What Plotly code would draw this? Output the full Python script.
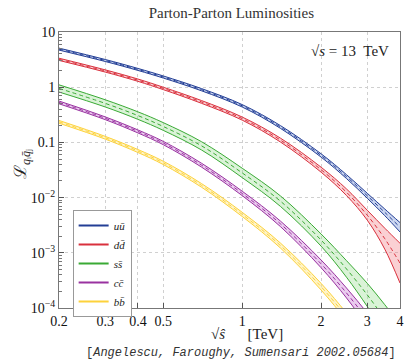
import numpy as np
import plotly.graph_objects as go

# sqrt(s-hat) in TeV
X = [0.2, 0.3, 0.4, 0.5, 0.7, 1.0, 1.4, 2.0, 2.5, 3.0, 3.5, 4.0]

# central luminosities
uu = [4.9, 3.05, 2.1, 1.53, 0.9, 0.46, 0.19, 0.058, 0.024, 0.0108, 0.0054, 0.0029]
dd = [3.2, 1.97, 1.34, 0.95, 0.54, 0.27, 0.11, 0.032, 0.0125, 0.0048, 0.0018, 0.00065]
ss = [0.95, 0.51, 0.306, 0.194, 0.0865, 0.028, 0.0086, 0.0017, 0.00051, 0.000173, 0.000063, 0.000025]
cc = [0.53, 0.274, 0.158, 0.0973, 0.0386, 0.0119, 0.00334, 0.00063, 0.000187, 0.0000615, 0.000022, 0.0000084]
bb = [0.236, 0.1216, 0.0698, 0.0425, 0.0166, 0.00496, 0.00135, 0.000243, 0.000069, 0.000022, 0.0000076, 0.0000028]

# half-width of uncertainty bands (in decades)
uu_err = [0.018, 0.018, 0.018, 0.019, 0.02, 0.022, 0.025, 0.03, 0.035, 0.045, 0.06, 0.085]
dd_err = [0.02, 0.02, 0.021, 0.022, 0.025, 0.028, 0.035, 0.045, 0.06, 0.09, 0.19, 0.36]
ss_err = [0.065, 0.065, 0.068, 0.07, 0.075, 0.085, 0.095, 0.11, 0.15, 0.21, 0.26, 0.3]
cc_err = [0.025, 0.025, 0.027, 0.03, 0.035, 0.04, 0.05, 0.07, 0.09, 0.12, 0.15, 0.18]
bb_err = [0.025, 0.025, 0.027, 0.03, 0.033, 0.038, 0.045, 0.06, 0.07, 0.09, 0.1, 0.12]

labels = ["<i>uū</i>", "<i>dd̄</i>", "<i>ss̄</i>", "<i>cc̄</i>", "<i>bb̄</i>"]
colors = ["#233e95", "#d9303d", "#3aaa35", "#9932a0", "#fdd23b"]
fills = ["rgba(110,140,215,0.35)", "rgba(240,120,130,0.35)", "rgba(150,220,140,0.35)",
         "rgba(205,130,215,0.4)", "rgba(255,230,130,0.45)"]

xticks = [0.2, 0.3, 0.4, 0.5, 1, 2, 3, 4]
xticktext = ["0.2", "0.3", "0.4", "0.5", "1", "2", "3", "4"]
yticks = [1e-4, 1e-3, 1e-2, 0.1, 1, 10]
yticktext = ["10<sup>−4</sup>", "10<sup>−3</sup>", "10<sup>−2</sup>", "0.1", "1", "10"]

fig = go.Figure()
series = [uu, dd, ss, cc, bb]
errs = [uu_err, dd_err, ss_err, cc_err, bb_err]
for vals, err, col, fc in zip(series, errs, colors, fills):
    v = np.array(vals)
    e = np.array(err)
    up = v * 10 ** e
    lo = v / 10 ** e
    fig.add_trace(go.Scatter(x=X, y=up, mode="lines", line=dict(color=col, width=1, shape="spline", smoothing=1.0),
                             showlegend=False, hoverinfo="skip"))
    fig.add_trace(go.Scatter(x=X, y=lo, mode="lines", line=dict(color=col, width=1, shape="spline", smoothing=1.0),
                             fill="tonexty", fillcolor=fc, showlegend=False, hoverinfo="skip"))
    fig.add_trace(go.Scatter(x=X, y=v, mode="lines",
                             line=dict(color=col, width=1, dash="4px,3px", shape="spline", smoothing=1.0),
                             showlegend=False))

for lab, col in zip(labels, colors):
    fig.add_trace(go.Scatter(x=[None], y=[None], mode="lines", line=dict(color=col, width=2), name=lab))

fig.update_layout(
    width=408, height=363,
    margin=dict(l=59, r=4, t=32, b=55),
    paper_bgcolor="white", plot_bgcolor="white",
    font=dict(family="Liberation Serif", size=14, color="#222"),
    title=dict(text="Parton-Parton Luminosities", x=0.567, xanchor="center", y=0.965, yanchor="middle",
               font=dict(size=15, color="#333")),
    legend=dict(x=0.04, y=0.355, xanchor="left", yanchor="top", bordercolor="#999", borderwidth=1,
                bgcolor="white", font=dict(size=11), tracegroupgap=0, itemwidth=30,
                traceorder="normal"),
    showlegend=True,
)
fig.update_xaxes(type="log", range=[np.log10(0.2), np.log10(4)], tickvals=xticks, ticktext=xticktext,
                 ticks="inside", ticklen=5, tickcolor="#555", showline=True, linecolor="#777", mirror=True,
                 showgrid=True, gridcolor="#d0d0d0", griddash="dot", zeroline=False,
                 tickfont=dict(size=14, color="#111"))
fig.update_yaxes(type="log", range=[-4, 1], tickvals=yticks, ticktext=yticktext,
                 ticks="inside", ticklen=5, tickcolor="#555", showline=True, linecolor="#777", mirror=True,
                 showgrid=True, gridcolor="#d0d0d0", griddash="dot", zeroline=False,
                 minor=dict(ticks="inside", ticklen=3, tickcolor="#777", showgrid=False, dtick="D1"),
                 tickfont=dict(size=14, color="#111"))

fig.add_annotation(text="√<i>s</i> = 13  TeV", xref="paper", yref="paper", x=0.974, y=0.93,
                   xanchor="right", yanchor="middle", showarrow=False, font=dict(size=15, color="#222"))
fig.add_annotation(text="ℒ<sub><i>q</i>ᵢ<i>q̄</i>ⱼ</sub>", xref="paper", yref="paper", x=-0.107, y=0.52,
                   textangle=-90, xanchor="center", yanchor="middle", showarrow=False,
                   font=dict(size=17, color="#222"))
fig.add_annotation(text="√<i>ŝ</i>\u00a0\u00a0\u00a0\u00a0\u00a0\u00a0[TeV]", xref="paper", yref="paper",
                   x=0.55, y=-0.096, xanchor="center", yanchor="middle", showarrow=False,
                   font=dict(size=15, color="#222"))
fig.add_annotation(text="[<i>Angelescu, Faroughy, Sumensari 2002.05684</i>]", xref="paper", yref="paper",
                   x=0.995, y=-0.163, xanchor="right", yanchor="middle", showarrow=False,
                   font=dict(family="Liberation Mono", size=12, color="#333"))

fig.write_html("out.html", config={"displayModeBar": False},
               post_script="document.body.style.margin='0';document.body.style.overflow='hidden';")
